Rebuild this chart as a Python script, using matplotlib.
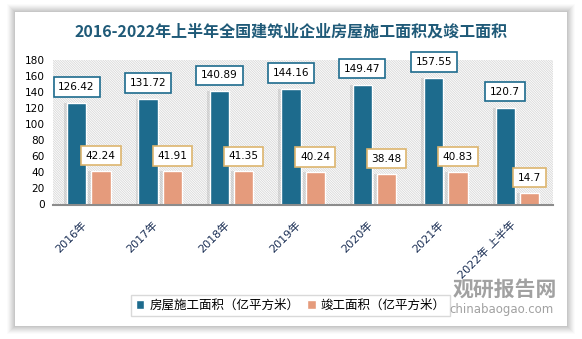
import numpy as np
import matplotlib.pyplot as plt
from matplotlib.patches import Rectangle

# data
years = ["2016年", "2017年", "2018年", "2019年", "2020年", "2021年", "2022年 上半年"]
construction = [126.42, 131.72, 140.89, 144.16, 149.47, 157.55, 120.7]
completed = [42.24, 41.91, 41.35, 40.24, 38.48, 40.83, 14.7]
series_names = ["房屋施工面积（亿平方米）", "竣工面积（亿平方米）"]
title = "2016-2022年上半年全国建筑业企业房屋施工面积及竣工面积"

blue = '#1D6B8D'
orange = '#E59B7C'
W, H = 582, 339

plt.rcParams['font.family'] = ['DejaVu Sans', 'Noto Sans CJK SC']
plt.rcParams['hatch.color'] = '#d8d8d8'
plt.rcParams['hatch.linewidth'] = 0.6

fig = plt.figure(figsize=(W / 100, H / 100), dpi=100)
fig.patch.set_facecolor('white')

# card with soft shadow
for k, a in zip(range(8, 0, -1), [0.03, 0.04, 0.05, 0.06, 0.07, 0.08, 0.09, 0.1]):
    fig.patches.append(Rectangle(((15 - k) / W, 1 - (326 + k) / H), (552 + 2 * k) / W, (314 + 2 * k) / H,
                                 transform=fig.transFigure, facecolor='#808080', alpha=a,
                                 edgecolor='none', zorder=0))
fig.patches.append(Rectangle((15 / W, 1 - 326 / H), 552 / W, 314 / H, transform=fig.transFigure,
                             facecolor='white', edgecolor='none', zorder=1))

ax = fig.add_axes([53 / W, 1 - 204.5 / H, 500 / W, 144.5 / H])
ax.set_zorder(2)
ax.patch.set_facecolor('white')
ax.patch.set_hatch('\\' * 14)
ax.patch.set_edgecolor('#d8d8d8')

x = np.arange(len(years))
w = 0.27
off = 0.17

# bar shadows
ax.bar(x - off - 0.025, construction, w + 0.03, color='#909090', alpha=0.25, zorder=2, linewidth=0)
ax.bar(x + off - 0.025, completed, w + 0.03, color='#909090', alpha=0.25, zorder=2, linewidth=0)
b1 = ax.bar(x - off, construction, w, color=blue, edgecolor='white', linewidth=1, zorder=3,
            label=series_names[0])
b2 = ax.bar(x + off, completed, w, color=orange, edgecolor='white', linewidth=1, zorder=3,
            label=series_names[1])

for xi, v in zip(x, construction):
    ax.annotate(f"{v:g}", (xi - off, v), xytext=(0, 16), textcoords='offset pixels',
                ha='center', va='center', fontsize=7.6, color='black', zorder=5,
                bbox=dict(boxstyle='square,pad=0.45', facecolor='white', edgecolor=blue, linewidth=1.2))
for xi, v in zip(x, completed):
    ax.annotate(f"{v:g}", (xi + off, v), xytext=(0, 15), textcoords='offset pixels',
                ha='center', va='center', fontsize=7.6, color='black', zorder=5,
                bbox=dict(boxstyle='square,pad=0.45', facecolor='white', edgecolor='#DDB56E', linewidth=1.2))

ax.set_xlim(-0.5, len(years) - 0.5)
ax.set_ylim(0, 180)
ax.set_yticks(range(0, 181, 20))
ax.set_xticks(x)
ax.set_xticklabels(years, rotation=45, ha='right', va='top', rotation_mode='default',
                   fontsize=8, color='#1B2F55')
ax.tick_params(axis='y', length=0, pad=6, labelsize=7.6, labelcolor='black')
ax.tick_params(axis='x', length=0, pad=11)
for s in ['top', 'right', 'left']:
    ax.spines[s].set_visible(False)
ax.spines['bottom'].set_color('#8c8c8c')
ax.spines['bottom'].set_linewidth(1.5)
ax.spines['bottom'].set_zorder(4)

fig.text(291 / W, 1 - 32 / H, title, ha='center', va='center', fontsize=11.5, fontweight='bold',
         color='#1F5A78', family=['Noto Sans CJK SC'], zorder=3)

leg = fig.legend(handles=[b1, b2], loc='center', bbox_to_anchor=(290.5 / W, 1 - 305.5 / H),
                 ncol=2, frameon=True, fancybox=False, prop={'family': 'Noto Sans CJK SC', 'size': 9},
                 handlelength=0.7, handleheight=0.7, handletextpad=0.4, columnspacing=0.6,
                 borderpad=0.35)
leg.get_frame().set_edgecolor('#d0d0d0')
leg.get_frame().set_linewidth(1)
leg.set_zorder(3)

# watermark
fig.text(505 / W, 1 - 289 / H, "观研报告网", ha='center', va='center', fontsize=15, fontweight='bold',
         color='#8a8a8a', alpha=0.8, family=['Noto Sans CJK SC'], zorder=6)
fig.text(502 / W, 1 - 309 / H, "chinabaogao.com", ha='center', va='center', fontsize=8.5,
         color='#8a8a8a', alpha=0.8, zorder=6)

fig.savefig('out.png', dpi=100)
